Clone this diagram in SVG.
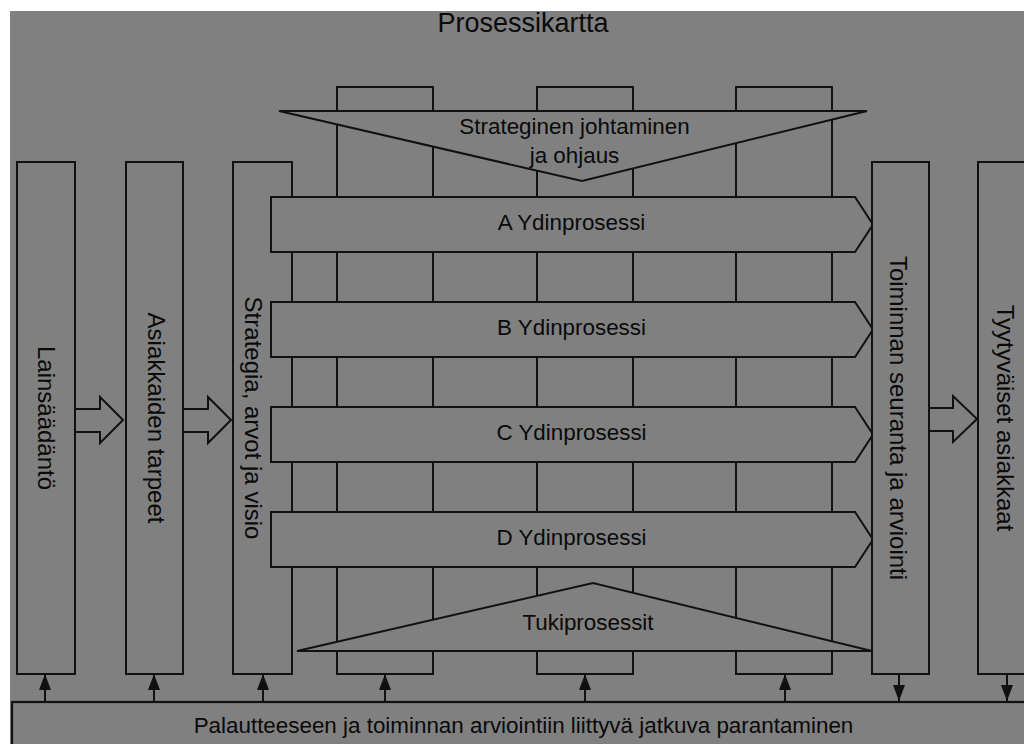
<svg xmlns="http://www.w3.org/2000/svg" width="1024" height="744" viewBox="0 0 1024 744">
  <defs>
    <style>
      .shape { fill: #808080; stroke: #111; stroke-width: 2; }
      .open { fill: none; stroke: #111; stroke-width: 2; }
      .lbl { font-family: "Liberation Sans", Arial, sans-serif; fill: #0a0a0a; text-anchor: middle; }
      .h { font-size: 22.4px; }
      .v { font-size: 24px; }
      .conn { fill: none; stroke: #111; stroke-width: 2; }
    </style>
    <marker id="ahe" viewBox="0 0 16 12" refX="16" refY="6" markerWidth="16" markerHeight="12" markerUnits="userSpaceOnUse" orient="auto">
      <path d="M0,0 L16,6 L0,12 Z" fill="#111"/>
    </marker>
  </defs>

  <rect x="0" y="0" width="1024" height="744" fill="#ffffff"/>
  <rect x="10" y="11" width="1014" height="733" fill="#808080"/>

  <text id="title" class="lbl" x="523" y="32" font-size="27">Prosessikartta</text>

  <g id="columns">
    <rect class="open" x="337" y="87" width="96" height="587"/>
    <rect class="open" x="537" y="87" width="96" height="587"/>
    <rect class="open" x="736" y="87" width="96" height="587"/>
  </g>

  <g id="lainsaadanto">
    <rect class="shape" x="17" y="162" width="58" height="512"/>
    <text class="lbl v" transform="translate(38,418) rotate(90)">Lainsäädäntö</text>
  </g>
  <g id="asiakkaiden-tarpeet">
    <rect class="shape" x="126" y="162" width="57" height="512"/>
    <text class="lbl v" transform="translate(148,418) rotate(90)">Asiakkaiden tarpeet</text>
  </g>
  <g id="strategia">
    <rect class="shape" x="233" y="162" width="59" height="512"/>
    <text class="lbl v" transform="translate(245,418) rotate(90)">Strategia, arvot ja visio</text>
  </g>

  <g id="strateginen-johtaminen">
    <polygon class="shape" points="279,111 867,111 582,181"/>
    <text class="lbl h" x="574.5" y="134">Strateginen johtaminen</text>
    <text class="lbl h" x="574.5" y="163">ja ohjaus</text>
  </g>

  <g id="ydinprosessi-a">
    <polygon class="shape" points="271,197 855,197 873,224.5 855,252 271,252"/>
    <text class="lbl h" x="571.5" y="230">A Ydinprosessi</text>
  </g>
  <g id="ydinprosessi-b">
    <polygon class="shape" points="271,302 855,302 873,329.5 855,357 271,357"/>
    <text class="lbl h" x="571.5" y="335">B Ydinprosessi</text>
  </g>
  <g id="ydinprosessi-c">
    <polygon class="shape" points="271,407 855,407 873,434.5 855,462 271,462"/>
    <text class="lbl h" x="571.5" y="440">C Ydinprosessi</text>
  </g>
  <g id="ydinprosessi-d">
    <polygon class="shape" points="271,512 855,512 873,539.5 855,567 271,567"/>
    <text class="lbl h" x="571.5" y="545">D Ydinprosessi</text>
  </g>

  <g id="tukiprosessit">
    <polygon class="shape" points="297,651 872,651 593,583"/>
    <text class="lbl h" x="588" y="630">Tukiprosessit</text>
  </g>

  <g id="toiminnan-seuranta">
    <rect class="shape" x="872" y="162" width="57" height="512"/>
    <text class="lbl v" transform="translate(890,418) rotate(90)">Toiminnan seuranta ja arviointi</text>
  </g>
  <g id="tyytyvaiset-asiakkaat">
    <rect class="shape" x="978" y="162" width="58" height="512"/>
    <text class="lbl v" transform="translate(997,418) rotate(90)">Tyytyväiset asiakkaat</text>
  </g>

  <g id="jatkuva-parantaminen">
    <rect x="12" y="702" width="1030" height="60" fill="#808080" stroke="#111" stroke-width="2.2"/>
    <text class="lbl h" x="523.5" y="733">Palautteeseen ja toiminnan arviointiin liittyvä jatkuva parantaminen</text>
  </g>

  <g id="connectors">
    <polyline class="conn" points="75,409 100,409 100,397 123,420 100,443 100,432 75,432"/>
    <polyline class="conn" points="183,409 208,409 208,397 231,420 208,443 208,432 183,432"/>
    <polyline class="conn" points="929,408 953,408 953,396 977,419 953,442 953,431 929,431"/>
    <line class="conn" x1="45" y1="701" x2="45" y2="674" marker-end="url(#ahe)"/>
    <line class="conn" x1="154" y1="701" x2="154" y2="674" marker-end="url(#ahe)"/>
    <line class="conn" x1="263" y1="701" x2="263" y2="674" marker-end="url(#ahe)"/>
    <line class="conn" x1="385" y1="701" x2="385" y2="674" marker-end="url(#ahe)"/>
    <line class="conn" x1="585" y1="701" x2="585" y2="674" marker-end="url(#ahe)"/>
    <line class="conn" x1="785" y1="701" x2="785" y2="674" marker-end="url(#ahe)"/>
    <line class="conn" x1="899" y1="675" x2="899" y2="701" marker-end="url(#ahe)"/>
    <line class="conn" x1="1007" y1="675" x2="1007" y2="701" marker-end="url(#ahe)"/>
  </g>
</svg>
